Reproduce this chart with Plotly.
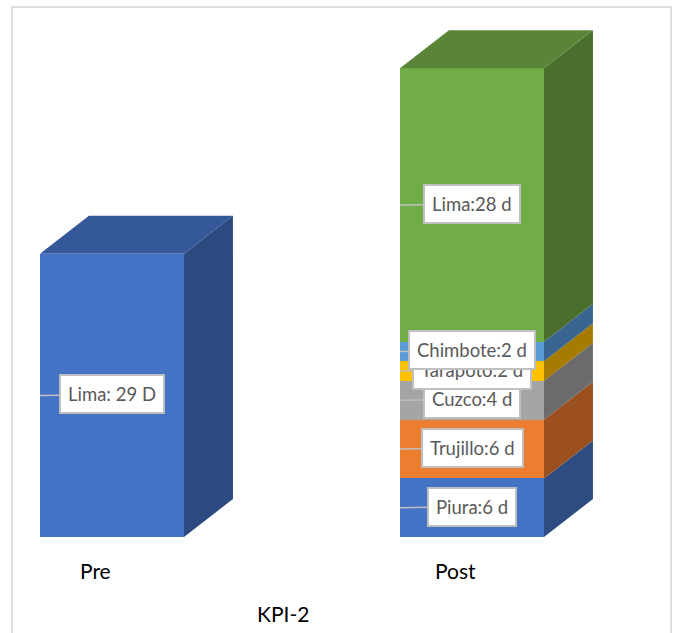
import plotly.graph_objects as go

# Data
categories = ["Pre", "Post"]
pre_cities = ["Lima"]
pre_days = [29]
post_cities = ["Piura", "Trujillo", "Cuzco", "Tarapoto", "Chimbote", "Lima"]
post_days = [6, 6, 4, 2, 2, 28]
chart_title = "KPI-2"

# Styling
front_pre = ["#4472C4"]
side_pre = ["#2C4A80"]
top_pre = "#34589A"
front_post = ["#4472C4", "#ED7D31", "#A5A5A5", "#FFC000", "#5B9BD5", "#70AD47"]
side_post = ["#2E4C80", "#9C5020", "#6B6B6B", "#A67C00", "#3A6590", "#4A6F2D"]
top_post = "#5A8538"

BAR_W = 0.4          # bar width in category units
DX = 0.136           # depth offset along x (category units)
DY = 3.89            # depth offset along y (value units)
FONT = "Lato"

fig = go.Figure()


def add_stack(xc, values, fronts, sides, top_color):
    x0, x1 = xc - BAR_W / 2, xc + BAR_W / 2
    base = 0
    for v, fc, sc in zip(values, fronts, sides):
        fig.add_trace(go.Bar(x=[xc], y=[v], base=[base], width=BAR_W,
                             marker=dict(color=fc, line=dict(width=0)),
                             showlegend=False, hoverinfo="skip"))
        lo, hi = base, base + v
        fig.add_trace(go.Scatter(
            x=[x1, x1 + DX, x1 + DX, x1, x1],
            y=[lo, lo + DY, hi + DY, hi, lo],
            fill="toself", fillcolor=sc, mode="lines",
            line=dict(width=0, color=sc), showlegend=False, hoverinfo="skip"))
        base = hi
    fig.add_trace(go.Scatter(
        x=[x0, x0 + DX, x1 + DX, x1, x0],
        y=[base, base + DY, base + DY, base, base],
        fill="toself", fillcolor=top_color, mode="lines",
        line=dict(width=0, color=top_color), showlegend=False, hoverinfo="skip"))


add_stack(0, pre_days, front_pre, side_pre, top_pre)
add_stack(1, post_days, front_post, side_post, top_post)


def add_labels(xc, cities, values, fmt):
    base = 0
    for c, v in zip(cities, values):
        mid = base + v / 2
        fig.add_annotation(
            x=xc - BAR_W / 2, y=mid, ax=72, ay=-1,
            text=fmt.format(c=c, v=v), showarrow=True, arrowhead=0,
            arrowwidth=1.5, arrowcolor="#BFBFBF", standoff=0,
            bgcolor="white", bordercolor="#BFBFBF", borderwidth=2,
            borderpad=7, font=dict(family=FONT, size=18.5, color="#595959"))
        base += v


add_labels(0, pre_cities, pre_days, "{c}: {v} D")
add_labels(1, post_cities, post_days, "{c}:{v} d")

# Category labels under the bars
for i, cat in enumerate(categories):
    fig.add_annotation(x=i, y=-3.45, text=cat, showarrow=False, xshift=-17,
                       font=dict(family=FONT, size=21, color="#000000"))

fig.add_annotation(x=0.475, y=-7.8, text=chart_title, showarrow=False,
                   font=dict(family=FONT, size=21, color="#000000"))

# Chart frame
fig.add_shape(type="rect", xref="paper", yref="paper",
              x0=12 / 675, x1=671 / 675, y0=-0.05, y1=1 - 7 / 633,
              line=dict(color="#D4D4D4", width=1.5), fillcolor="rgba(0,0,0,0)")

fig.update_layout(
    width=675, height=633,
    margin=dict(l=0, r=0, t=0, b=0),
    paper_bgcolor="white", plot_bgcolor="white",
    barmode="overlay", bargap=0,
    xaxis=dict(range=[-112 / 360, (675 - 112) / 360], visible=False, fixedrange=True),
    yaxis=dict(range=[-(633 - 537) / 9.765, 537 / 9.765], visible=False, fixedrange=True),
)

fig.write_html("out.html")
